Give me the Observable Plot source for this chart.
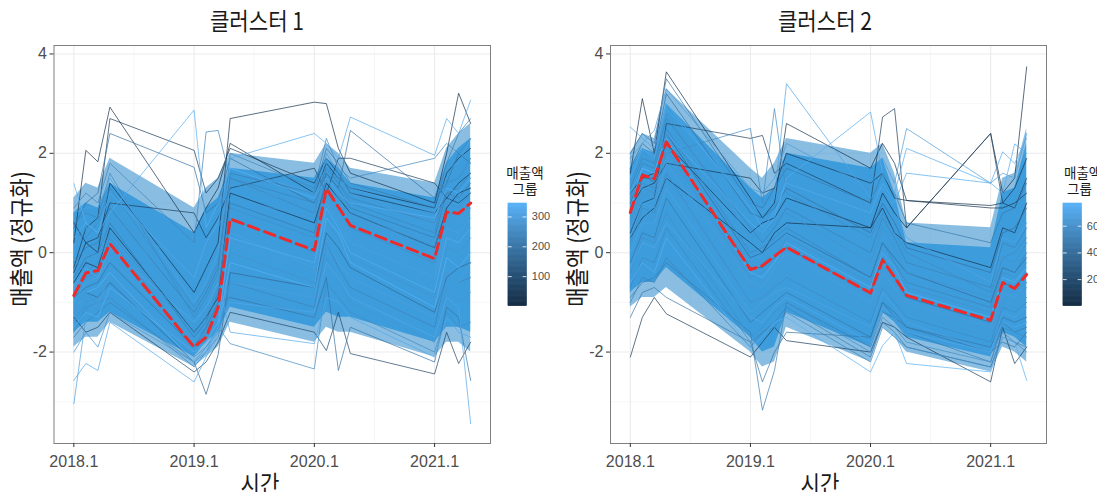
<!DOCTYPE html>
<html><head><meta charset="utf-8">
<script src="https://cdn.jsdelivr.net/npm/d3@7"></script>
<script src="https://cdn.jsdelivr.net/npm/@observablehq/plot@0.6"></script>
<style>
body{margin:0;background:#fff;}
#root{position:relative;width:1097px;height:492px;overflow:hidden;background:#fff;}
.abs{position:absolute;}
.kr{font-family:"Noto Sans CJK KR","Noto Sans",sans-serif;color:#1a1a1a;white-space:nowrap;}
svg{overflow:visible;}
</style></head><body><div id="root"></div>
<script>
// ---- data ----
const quarters = [2018.1,2018.2,2018.3,2018.4,2019.1,2019.2,2019.3,2019.4,2020.1,2020.2,2020.3,2020.4,2021.1,2021.2,2021.3,2021.4];
const xTicks = [2018.1,2019.1,2020.1,2021.1];
const xMinor = [2018.6,2019.6,2020.6];
const yTicks = [-2,0,2,4];
const yMinor = [-3,-1,1,3];
const titles = ["클러스터 1","클러스터 2"];

const mean1 = [-0.86,-0.41,-0.36,0.18,-1.90,-1.70,-1.10,0.68,0.05,1.29,0.92,0.55,-0.12,0.82,0.79,1.00];
const mean2 = [0.81,1.56,1.49,2.23,-0.34,-0.26,-0.07,0.11,-0.81,-0.15,-0.49,-0.86,-1.36,-0.60,-0.72,-0.44];

// dense core of the line bundle (read per quarter)
const bandHi1 = [0.8,1.0,0.9,1.4,0.4,0.9,1.1,1.7,1.5,1.9,1.7,1.4,1.1,1.8,2.1,2.3];
const bandLo1 = [-1.6,-1.4,-1.4,-1.2,-2.1,-1.8,-1.6,-1.1,-1.5,-1.2,-1.3,-1.3,-1.8,-1.5,-1.5,-1.6];
const bandHi2 = [1.7,2.1,2.0,3.0,1.3,1.1,1.3,2.0,1.7,1.9,1.2,0.2,0.1,1.2,1.3,2.2];
const bandLo2 = [-0.8,-0.6,-0.6,-0.3,-1.7,-2.0,-1.9,-1.2,-1.9,-1.2,-1.4,-1.7,-2.1,-1.6,-1.7,-1.9];
// half-dense fringe around it
const outerHi1 = [1.1,1.4,1.3,1.9,0.9,1.3,1.5,2.0,1.8,2.2,2.0,1.7,1.4,2.1,2.4,2.6];
const outerLo1 = [-1.9,-1.7,-1.7,-1.4,-2.3,-2.1,-1.9,-1.4,-1.8,-1.5,-1.6,-1.6,-2.1,-1.8,-1.8,-2.0];
const outerHi2 = [2.0,2.4,2.3,3.3,1.7,1.5,1.8,2.3,2.0,2.2,1.6,0.6,0.5,1.5,1.6,2.5];
const outerLo2 = [-1.1,-0.9,-0.9,-0.7,-2.0,-2.3,-2.2,-1.5,-2.2,-1.5,-1.7,-2.0,-2.4,-1.9,-2.0,-2.2];

const cluster1Series = [
 {id:12,  v:[0.2,2.06,1.83,2.93,0.4,0.9,1.3,2.2,1.2,1.8,1.5,1.3,0.9,1.6,1.9,2.1]},
 {id:340, v:[1.39,0.6,0.4,0.8,2.87,0.5,1.0,1.7,1.1,1.5,1.2,1.0,0.7,1.3,1.2,1.5]},
 {id:45,  v:[-0.3,0.5,0.7,2.7,2.06,1.2,1.5,2.1,1.4,1.9,1.6,1.2,0.8,1.1,1.4,1.6]},
 {id:188, v:[0.5,1.0,1.2,2.4,1.72,0.8,1.0,1.9,1.0,1.6,1.3,2.46,1.1,1.4,2.0,1.8]},
 {id:300, v:[-3.04,-1.3,-1.0,-0.5,-2.0,-1.8,-1.4,-0.6,-0.9,0.2,-0.2,-0.5,-1.3,-0.4,-0.6,-0.2]},
 {id:320, v:[-2.57,-2.23,-2.37,-1.4,-2.6,-2.1,-1.6,-1.0,-1.2,-0.2,-0.5,-0.9,-1.7,-0.9,-1.1,-3.44]},
 {id:160, v:[-1.2,-0.8,-0.9,-0.6,-2.2,-2.85,-2.05,-0.4,-0.7,0.4,0.1,-0.3,-1.2,-0.5,-0.3,-0.2]},
 {id:250, v:[-1.6,-1.1,-1.0,-0.9,-2.3,-2.0,-1.5,-1.83,-2.34,-0.6,-0.9,-1.2,-2.0,-1.2,-1.5,-1.4]},
 {id:20,  v:[-0.4,0.2,0.0,1.4,-0.8,-0.3,0.2,2.7,3.03,3.0,2.1,1.6,1.0,2.0,3.21,2.6]},
 {id:330, v:[0.3,0.6,0.4,1.2,-0.5,0.2,0.6,1.9,2.4,2.2,1.9,2.73,1.96,2.7,2.4,3.07]},
 {id:252, v:[-0.8,-0.5,-0.4,0.3,-1.9,-1.6,-1.0,0.7,0.0,1.3,0.9,0.5,-0.2,0.8,0.8,1.0]},
 {id:302, v:[-1.0,-0.6,-0.5,-0.1,-1.8,-1.6,-1.2,0.4,-0.3,1.0,0.6,0.2,-0.5,0.5,0.4,0.7]},
 {id:212, v:[-0.5,-0.1,0.0,0.6,-1.7,-1.4,-0.8,1.0,0.4,1.6,1.3,0.9,0.3,1.2,1.1,1.4]},
 {id:270, v:[-1.4,-1.0,-0.9,-0.5,-2.1,-1.9,-1.5,0.0,-0.6,0.6,0.3,-0.1,-0.9,0.1,0.0,0.3]},
 {id:282, v:[0.1,0.5,0.6,1.1,-1.5,-1.2,-0.5,1.4,0.9,2.0,1.6,1.2,0.6,1.5,1.6,1.8]},
 {id:230, v:[-1.7,-1.4,-1.2,-1.0,-2.2,-2.0,-1.7,-0.6,-1.1,0.2,-0.3,-0.7,-1.5,-0.4,-0.6,-0.5]},
 {id:5,   v:[-0.6,-0.2,-0.3,0.5,-1.6,-1.3,-0.9,1.2,0.6,1.4,1.1,0.8,0.1,0.9,1.2,1.3]},
 {id:290, v:[-1.1,-0.9,-1.1,-0.3,-2.0,-1.7,-1.3,0.2,-0.4,1.1,0.7,0.3,-0.4,0.6,0.6,0.9]},
 {id:310, v:[0.8,0.9,0.9,1.5,-1.0,-0.6,0.0,1.7,1.2,1.9,1.5,1.3,0.8,1.7,1.8,2.3]},
 {id:75,  v:[-1.3,-1.6,-1.5,-1.2,-2.4,-2.2,-1.8,-1.2,-1.6,-1.97,-1.2,-2.03,-2.44,-1.6,-2.23,-1.8]},
 {id:232, v:[0.9,1.2,1.0,1.8,0.2,2.43,2.46,1.5,1.0,1.7,1.4,1.1,0.6,1.2,1.3,1.6]},
 {id:215, v:[-0.2,0.1,0.2,0.9,-1.2,-0.8,-0.3,1.6,1.2,2.1,1.8,1.4,0.9,1.8,2.4,2.7]},
 {id:195, v:[-0.9,-0.7,-0.6,-0.2,-1.9,-1.5,-1.0,-0.9,-1.3,-0.5,-2.37,-1.5,-2.2,-1.1,-1.3,-2.57]},
 {id:260, v:[-0.1,-0.4,-0.2,0.4,-1.6,-1.3,-0.7,0.9,0.3,1.5,1.2,0.8,0.1,1.0,0.9,1.2]},
 {id:335, v:[-1.5,-1.2,-1.3,-0.7,-2.0,-1.8,-1.4,0.3,-0.2,0.9,0.5,0.0,-0.8,0.3,0.2,0.5]},
 {id:272, v:[-2.0,-1.6,-1.9,-1.2,-2.2,-1.9,-1.6,-0.8,-1.3,-0.1,-0.5,-1.0,-1.8,-0.7,-1.0,-0.8]},
 {id:242, v:[0.4,0.3,0.6,1.3,-1.1,-0.7,-0.2,1.5,0.8,1.8,1.4,1.0,0.4,1.4,1.5,1.9]},
 {id:240, v:[0.6,0.8,0.7,1.6,-1.3,-0.9,-0.4,2.0,1.3,2.3,1.7,1.5,1.9,2.2,2.0,2.3]},
 {id:322, v:[-0.7,-0.3,-0.5,0.1,-1.4,-1.1,-0.6,-1.6,-1.83,-0.9,-1.0,-1.3,-2.1,-1.3,-1.6,-1.7]},
 {id:285, v:[-0.3,0.0,-0.1,0.7,-0.3,0.1,0.5,1.1,0.7,1.5,1.1,0.7,0.2,1.0,1.3,1.5]},
 {id:55,  v:[0.6,0.2,0.3,1.0,0.8,0.3,0.7,1.3,1.7,1.2,1.9,1.9,1.4,1.1,1.0,1.2]},
 {id:345, v:[-1.2,-0.8,-0.7,-0.4,-2.2,-2.0,-1.5,-0.2,-0.7,0.7,0.4,-0.2,-1.1,-0.1,-0.3,0.0]}
];

const cluster2Series = [
 {id:700, v:[2.53,2.3,2.1,2.9,1.0,0.8,1.1,3.4,1.1,1.3,0.9,0.3,-0.6,0.3,0.2,0.6]},
 {id:30,  v:[1.6,3.1,2.0,3.64,1.1,0.7,1.0,2.6,1.7,2.2,1.8,1.05,0.95,1.0,1.3,1.9]},
 {id:650, v:[1.9,2.2,2.46,3.3,1.3,1.2,1.5,2.2,1.3,1.9,1.4,2.5,1.4,1.6,1.5,2.4]},
 {id:90,  v:[-2.1,-1.3,-0.9,-1.23,-2.1,-1.8,-1.5,-1.77,-2.0,-1.4,-1.5,-1.7,-2.6,-1.5,-2.23,-1.9]},
 {id:480, v:[-0.9,-0.6,-0.5,-0.2,-1.6,-3.17,-2.37,-1.0,-1.9,-1.2,-1.3,-1.6,-2.2,-1.4,-1.6,-1.5]},
 {id:560, v:[1.0,1.4,1.3,2.0,2.5,1.0,2.9,1.2,0.3,0.8,0.4,0.0,-0.8,-0.1,0.0,0.3]},
 {id:120, v:[0.4,1.0,1.1,2.6,2.3,2.36,1.6,1.8,1.0,2.73,2.9,0.5,2.4,1.0,0.9,1.5]},
 {id:740, v:[1.2,1.7,1.6,2.4,0.6,0.4,0.7,1.5,2.83,1.6,1.2,2.1,1.4,1.2,2.19,2.0]},
 {id:400, v:[0.8,1.5,1.5,2.2,-0.3,-0.3,-0.1,0.1,-0.8,-0.1,-0.5,-0.9,-1.4,-0.6,-0.7,-0.4]},
 {id:550, v:[0.2,0.9,0.8,1.6,-1.0,-0.9,-0.7,-0.5,-1.4,-0.7,-1.0,-1.3,-1.8,-1.1,-1.2,-1.0]},
 {id:600, v:[1.4,2.0,1.9,2.8,0.3,0.4,0.6,0.8,-0.2,0.5,0.1,-0.4,-0.9,-0.1,-0.2,0.2]},
 {id:580, v:[-0.4,0.3,0.2,0.8,-1.7,-1.5,-1.2,-1.0,-2.0,-1.3,-1.5,-1.8,-2.2,-1.5,-1.6,-1.7]},
 {id:520, v:[1.1,1.8,1.7,2.5,0.0,0.1,0.3,0.5,-0.5,0.2,-0.2,-0.6,-1.1,-0.3,-0.4,0.0]},
 {id:630, v:[0.5,1.2,1.1,1.9,-0.7,-0.6,-0.4,-0.2,-1.1,-0.4,-0.8,-1.1,-1.6,-0.9,-1.0,-0.7]},
 {id:760, v:[-0.6,-0.2,-0.4,0.3,-1.9,-1.7,-1.4,-1.3,-2.4,-1.87,-1.6,-2.23,-2.4,-1.7,-1.8,-2.57]},
 {id:60,  v:[0.9,1.3,1.4,1.8,1.5,1.2,1.3,2.0,1.4,1.6,1.1,1.05,0.9,0.9,1.0,1.2]},
 {id:420, v:[1.7,2.2,2.0,3.2,0.8,0.7,0.9,1.3,0.4,1.0,0.6,0.1,-0.4,0.4,0.5,0.9]},
 {id:690, v:[0.0,0.6,0.6,1.3,-1.2,-1.0,-0.8,-0.7,-1.5,-0.8,-1.1,-1.4,-2.0,-1.2,-1.3,-1.1]},
 {id:440, v:[-1.3,-0.8,-0.7,-0.9,-1.8,-2.6,-2.0,-1.6,-1.7,-1.0,-1.3,-1.5,-2.0,-1.8,-1.9,-1.6]},
 {id:590, v:[0.6,1.3,1.2,2.1,-0.5,-0.4,-0.1,0.3,-0.6,0.0,-0.3,-0.7,-1.2,-0.4,-0.5,-0.2]},
 {id:510, v:[1.3,1.9,1.8,2.7,0.5,0.2,0.5,0.9,0.0,0.7,0.3,-0.2,-0.7,0.2,0.1,0.5]},
 {id:450, v:[-0.2,0.4,0.3,1.1,-1.4,-1.2,-1.0,-0.8,-1.7,-1.0,-1.2,-1.5,-1.9,-1.3,-1.4,-1.3]},
 {id:10,  v:[0.3,0.7,0.9,1.5,0.2,0.0,0.4,0.6,0.5,1.2,0.8,0.5,2.4,1.2,1.5,3.74]},
 {id:730, v:[1.5,2.1,1.9,3.0,0.9,0.5,0.8,1.4,0.8,1.4,1.0,1.6,1.4,2.03,1.8,2.3]},
 {id:610, v:[0.7,1.1,1.3,2.0,-0.2,-0.2,0.0,0.2,-0.9,-0.3,-0.6,-1.0,-1.5,-0.7,-0.8,-0.6]},
 {id:540, v:[-0.7,-0.1,-0.2,0.5,-1.8,-1.6,-1.5,-1.2,-2.2,-1.5,-1.7,-1.9,-2.3,-1.6,-1.8,-2.0]},
 {id:380, v:[1.0,1.6,1.4,2.4,-0.1,0.0,0.2,0.4,-0.5,0.2,-0.1,-0.4,-1.0,-0.3,-0.4,-0.1]},
 {id:620, v:[0.1,0.8,0.7,1.5,-1.0,-0.9,-0.6,-0.4,-1.2,-0.6,-0.9,-1.2,-1.7,-1.0,-1.1,-0.9]},
 {id:40,  v:[1.2,1.5,1.6,2.2,0.4,0.6,0.7,1.1,0.5,0.9,0.4,0.2,-0.3,0.5,0.4,1.0]},
 {id:670, v:[0.3,1.0,0.9,1.8,-0.6,-0.7,-0.3,0.0,-1.0,-0.4,-0.7,-1.0,-1.5,-0.8,-0.9,-0.6]},
 {id:500, v:[-1.0,-0.5,-0.6,-0.1,-1.9,-1.6,-1.4,-1.1,-2.1,-1.4,-1.6,-1.9,-2.3,-1.7,-1.8,-1.9]},
 {id:770, v:[0.9,1.7,1.6,2.3,-0.4,-0.5,-0.2,0.2,-0.7,0.0,-0.3,-0.8,-1.3,-0.5,-0.6,-0.3]},
 {id:470, v:[2.0,2.4,2.2,3.5,1.0,0.9,1.3,1.7,1.0,1.6,1.2,0.6,0.2,0.8,0.9,1.4]},
 {id:710, v:[-0.3,0.2,0.1,0.6,-1.3,-1.4,-1.1,-0.9,-1.8,-1.1,-1.3,-1.6,-2.0,-1.4,-1.5,-1.4]}
];

const legendTicks1 = [100,200,300];
const legendTicks2 = [200,400,600];
const idMax1 = 345, idMax2 = 770;

// ---- drawing ----
const root = document.getElementById("root");
const colorScale = (max) => ({type:"linear", domain:[1,max], range:["#132B43","#56B1F7"], interpolate:"lab"});

function place(el, left, top){ el.style.position="absolute"; el.style.left=left+"px"; el.style.top=top+"px"; root.appendChild(el); return el; }
function text(html, left, top, size, extra){
  const d = document.createElement("div");
  d.className = "kr abs"; d.innerHTML = html;
  d.style.fontSize = size+"px"; d.style.lineHeight = size+"px";
  d.style.left = left+"px"; d.style.top = top+"px";
  if (extra) Object.assign(d.style, extra);
  root.appendChild(d); return d;
}

function panel(series, mean, hi, lo, ohi, olo, maxId, width, mL, mR){
  const rows = [];
  series.slice().sort((a,b)=>a.id-b.id).forEach(s => s.v.forEach((v,i)=>rows.push({id:s.id, t:quarters[i], v})));
  const band = quarters.map((t,i)=>({t, lo:lo[i], hi:hi[i], olo:olo[i], ohi:ohi[i]}));
  const m = quarters.map((t,i)=>({t, v:mean[i]}));
  return Plot.plot({
    width, height:492, marginLeft:mL, marginRight:mR, marginTop:45, marginBottom:49,
    x:{domain:[2017.935,2021.565]},
    y:{domain:[-3.84,4.17]},
    color: colorScale(maxId),
    style:{fontFamily:"'Liberation Sans', Arial, sans-serif", fontSize:"16px", color:"#4d4d4d", background:"transparent"},
    marks:[
      Plot.ruleX(xMinor,{stroke:"#f3f3f3", strokeWidth:0.7}),
      Plot.ruleY(yMinor,{stroke:"#f3f3f3", strokeWidth:0.7}),
      Plot.ruleX(xTicks,{stroke:"#ebebeb", strokeWidth:1.1}),
      Plot.ruleY(yTicks,{stroke:"#ebebeb", strokeWidth:1.1}),
      Plot.areaY(band,{x:"t", y1:"olo", y2:"ohi", fill:"#3a92cf", fillOpacity:0.6}),
      Plot.areaY(band,{x:"t", y1:"lo", y2:"hi", fill:"#3d9ddc"}),
      Plot.line(rows,{x:"t", y:"v", z:"id", stroke:"id", strokeWidth:0.7}),
      Plot.line(m,{x:"t", y:"v", stroke:"#ee2a2a", strokeWidth:3, strokeDasharray:"11,6"}),
      Plot.frame({stroke:"#7f7f7f", strokeWidth:1}),
      Plot.axisX({ticks:xTicks, tickFormat:d=>d.toFixed(1), tickSize:4, tickPadding:8, label:null, stroke:"#333"}),
      Plot.axisY({ticks:yTicks, tickFormat:d=>String(d), tickSize:4, tickPadding:3, label:null, stroke:"#333"})
    ]
  });
}

function legend(maxId, ticks){
  const n = 120;
  const stripes = d3.range(n).map(i=>{ const a = 1+(maxId-1)*i/n, b = 1+(maxId-1)*(i+1)/n; return {a,b,m:(a+b)/2}; });
  return Plot.plot({
    width:62, height:112.7, marginLeft:0, marginRight:43.7, marginTop:5, marginBottom:5,
    x:{domain:[0,1], axis:null},
    y:{domain:[1,maxId], axis:null},
    color: colorScale(maxId),
    style:{fontFamily:"'Liberation Sans', Arial, sans-serif", fontSize:"11px", color:"#4d4d4d", background:"transparent"},
    marks:[
      Plot.rect(stripes,{x1:0, x2:1, y1:"a", y2:"b", fill:"m", stroke:"m", strokeWidth:0.6}),
      Plot.ruleY(ticks,{x1:0, x2:0.2, stroke:"white", strokeWidth:0.8}),
      Plot.ruleY(ticks,{x1:0.8, x2:1, stroke:"white", strokeWidth:0.8}),
      Plot.axisY({anchor:"right", ticks, tickSize:0, tickPadding:5, label:null})
    ]
  });
}

place(panel(cluster1Series, mean1, bandHi1, bandLo1, outerHi1, outerLo1, idMax1, 550, 53.5, 60), 0, 0);
place(panel(cluster2Series, mean2, bandHi2, bandLo2, outerHi2, outerLo2, idMax2, 547, 60, 51), 550, 0);
place(legend(idMax1, legendTicks1), 507.7, 198.3);
place(legend(idMax2, legendTicks2), 1063.3, 198.3);

// titles and axis labels
const sx = "scaleX(0.88)";
text(titles[0], 257, 8, 24, {transform:"translateX(-50%) "+sx});
text(titles[1], 824.5, 8, 24, {transform:"translateX(-50%) "+sx});
text("시간", 260, 470.5, 24, {transform:"translateX(-50%) "+sx});
text("시간", 820, 470.5, 24, {transform:"translateX(-50%) "+sx});
text("매출액 (정규화)", 20, 238.5, 24, {transform:"translate(-50%,-50%) rotate(-90deg) "+sx});
text("매출액 (정규화)", 576, 238.5, 24, {transform:"translate(-50%,-50%) rotate(-90deg) "+sx});
text("매출액<br>그룹", 505, 163.7, 13.5, {lineHeight:"16.5px", width:"40px", textAlign:"center"});
text("매출액<br>&nbsp;그룹", 1064, 163.7, 13.5, {lineHeight:"16.5px", textAlign:"left"});
</script>
</body></html>
